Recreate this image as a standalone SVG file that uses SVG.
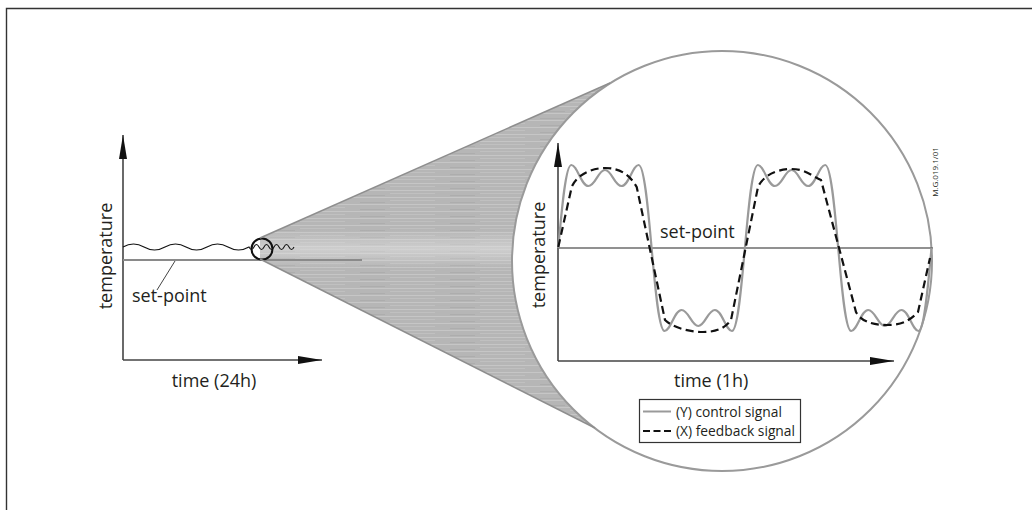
<svg xmlns="http://www.w3.org/2000/svg" width="1032" height="510" viewBox="0 0 1032 510">
<style>
.t{font-family:"Open Sans","Liberation Sans",sans-serif;fill:#231f20}
.lab{font-size:18px}
.leg{font-size:13.8px}
.ax{stroke:#444;stroke-width:1.6;fill:none}
.sp{stroke:#6d6d6d;stroke-width:1.6;fill:none}
.ctl{stroke:#9a9a9a;stroke-width:2.2;fill:none;stroke-linejoin:round}
.fb{stroke:#111;stroke-width:2.2;fill:none;stroke-dasharray:8 4.5}
.edge{stroke:#8e8e8e;stroke-width:1.5;fill:none}
</style>
<defs>
<marker id="arr" viewBox="0 0 24 8" refX="24" refY="4" markerWidth="24" markerHeight="8" orient="auto" markerUnits="userSpaceOnUse"><path d="M0,0 L24,4 L0,8 Z" fill="#111"/></marker>
<pattern id="streak" patternUnits="userSpaceOnUse" width="90" height="7"><rect width="90" height="7" fill="#b6b6b6"/><rect y="1" width="90" height="1" fill="#c6c6c6"/><rect x="30" y="4" width="45" height="1" fill="#c0c0c0"/><rect x="0" y="6" width="25" height="1" fill="#adadad"/></pattern>
<linearGradient id="band" x1="0" y1="0" x2="0" y2="1"><stop offset="0" stop-color="#e2e2e2" stop-opacity="0"/><stop offset="0.5" stop-color="#e2e2e2" stop-opacity="0.55"/><stop offset="1" stop-color="#e2e2e2" stop-opacity="0"/></linearGradient>
<clipPath id="coneClip"><path d="M260,238 L610,83 A210,210 0 0 0 595,428 L260,259 Z"/></clipPath>
</defs>
<rect width="1032" height="510" fill="#fff"/>
<g id="frame"><path d="M6.5,510 L6.5,8.5 L1032,8.5" fill="none" stroke="#333" stroke-width="1.4"/></g>
<g id="cone">
<g clip-path="url(#coneClip)"><rect x="250" y="70" width="370" height="370" fill="url(#streak)"/><rect x="250" y="230" width="370" height="38" fill="url(#band)"/></g>
</g>
<g id="zoom-circle"><circle cx="722" cy="261" r="210" fill="none" stroke="#9a9a9a" stroke-width="2"/></g>
<g id="left-chart">
<line class="ax" x1="123" y1="360" x2="123" y2="135" marker-end="url(#arr)"/>
<line class="ax" x1="123" y1="360" x2="322" y2="360" marker-end="url(#arr)"/>
<line x1="123" y1="260" x2="362" y2="260" stroke="#8a8a8a" stroke-width="2"/>
<path d="M123,247 q10.5,-6 21,0 t21,0 t21,0 t21,0 t21,0 t21,0 q2.5,5 5,0 t5,0 t5,0 t5,0 t5,0 t5,0 t5,0 t5,0 t5,0" fill="none" stroke="#111" stroke-width="1.1"/>
<circle cx="262" cy="249" r="10.5" fill="none" stroke="#111" stroke-width="2"/>
<text class="t lab" transform="translate(112,256) rotate(-90)" text-anchor="middle">temperature</text>
<text class="t lab" x="132" y="302">set-point</text>
<text class="t lab" x="214" y="387" text-anchor="middle">time (24h)</text>
</g>
<g id="right-chart">
<line class="ax" x1="558" y1="361" x2="558" y2="143" marker-end="url(#arr)"/>
<line class="ax" x1="558" y1="361" x2="894" y2="361" marker-end="url(#arr)"/>
<line class="sp" x1="558" y1="248" x2="933" y2="248"/>
<path class="ctl" d="M558.3,248 C561.3,215 565.3,165 571.3,165 C577.3,165 581.3,186 588.3,186 C595.3,186 598.3,170 605,170 C611.6,170 614.6,186 621.6,186 C628.6,186 632.6,165 638.6,165 C644.6,165 648.6,215 651.6,248 C654.6,281 658.6,331 664.6,331 C670.6,331 674.6,310 681.6,310 C688.6,310 691.6,326 698.3,326 C704.9,326 707.9,310 714.9,310 C721.9,310 725.9,331 731.9,331 C737.9,331 741.9,281 744.9,248 C747.9,215 751.9,165 757.9,165 C763.9,165 767.9,186 774.9,186 C781.9,186 784.9,170 791.6,170 C798.2,170 801.2,186 808.2,186 C815.2,186 819.2,165 825.2,165 C831.2,165 835.2,215 838.2,248 C841.2,281 845.2,331 851.2,331 C857.2,331 861.2,310 868.2,310 C875.2,310 878.2,326 884.9,326 C891.5,326 894.5,310 901.5,310 C908.5,310 912.5,331 918.5,331 C924.5,331 928.5,281 931.5,248"/>
<path class="fb" d="M558.3,247 L571.7,187 C576,176 590,168 605,168 C620,168 630,175 636.7,187 L665,320 C672,327 688,332 703,332 C718,332 726,327 731,320 L758,187 C763,176 776,169 791.7,169 C805,169 812,176 821,180 L856,312 C860,320 870,325 887,325 C905,325 912,318 918,312 L930,258"/>
<text class="t lab" transform="translate(545,255) rotate(-90)" text-anchor="middle">temperature</text>
<text class="t lab" x="660" y="238">set-point</text>
<text class="t lab" x="674" y="387">time (1h)</text>
<text class="t" font-size="8" fill="#444" transform="translate(938,172) rotate(-90)" text-anchor="middle">M.G.019.1/01</text>
</g>
<g id="legend">
<rect x="639.5" y="399.5" width="161" height="43" fill="#fff" stroke="#333" stroke-width="1.2"/>
<line x1="643" y1="411.5" x2="671" y2="411.5" stroke="#9a9a9a" stroke-width="2"/>
<line x1="643" y1="431" x2="672" y2="431" stroke="#111" stroke-width="2" stroke-dasharray="7 3.5"/>
<text class="t leg" x="676" y="416.5">(Y) control signal</text>
<text class="t leg" x="676" y="436">(X) feedback signal</text>
</g>
<g id="connectors">
<line class="edge" x1="260" y1="238" x2="610" y2="83"/>
<line class="edge" x1="260" y1="259" x2="595" y2="428"/>
<line x1="157" y1="290" x2="175" y2="261" stroke="#444" stroke-width="1"/>
</g>
</svg>
